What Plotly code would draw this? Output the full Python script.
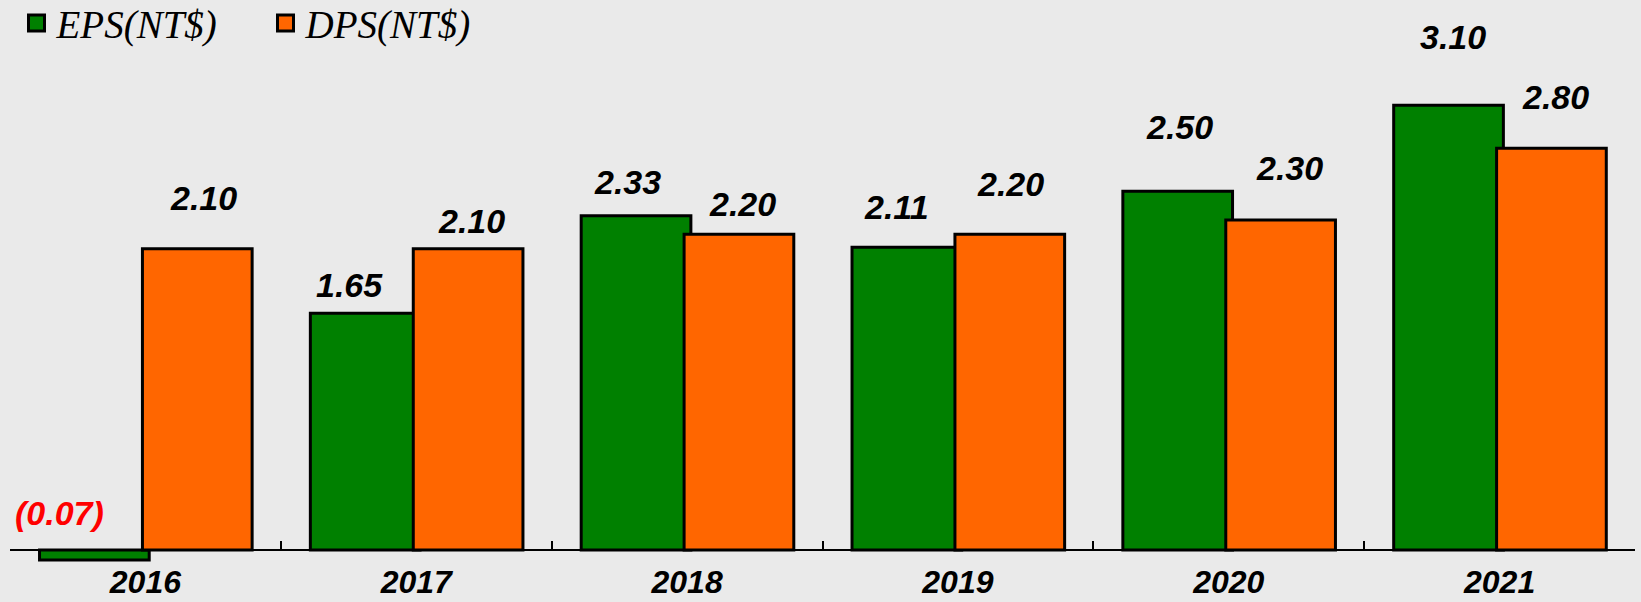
import plotly.graph_objects as go

# ---- data ----
years = ["2016", "2017", "2018", "2019", "2020", "2021"]
eps = [-0.07, 1.65, 2.33, 2.11, 2.50, 3.10]
dps = [2.10, 2.10, 2.20, 2.20, 2.30, 2.80]
eps_text = ["(0.07)", "1.65", "2.33", "2.11", "2.50", "3.10"]
dps_text = ["2.10", "2.10", "2.20", "2.20", "2.30", "2.80"]

# ---- label nudges (pixels) ----
eps_dy = [47, 28, 34, 40, 64, 68]
dps_dy = [51, 28, 30, 50, 52, 51]
eps_dx = [-35, -16, -9, -10, 2, 4]
dps_dx = [6, 3, 4, 1, 9, 4]

GREEN = "#008000"
ORANGE = "#ff6600"
BG = "#eaeaea"
BAR_W = 0.405
EPS_OFF = -0.391
DPS_OFF = -0.011
YMIN, YMAX = -0.223, 3.763

W, H = 1641, 602
ML, MR, MT, MB = 10, 6, 10, 20

fig = go.Figure()
fig.add_trace(go.Bar(
    x=years, y=eps, width=BAR_W, offset=EPS_OFF,
    marker=dict(color=GREEN, line=dict(color="black", width=3)),
    showlegend=False, hoverinfo="skip"))
fig.add_trace(go.Bar(
    x=years, y=dps, width=BAR_W, offset=DPS_OFF,
    marker=dict(color=ORANGE, line=dict(color="black", width=3)),
    showlegend=False, hoverinfo="skip"))

# legend entries
for name, col in [("EPS(NT$)", GREEN), ("DPS(NT$)", ORANGE)]:
    fig.add_trace(go.Scatter(
        x=[None], y=[None], mode="markers", name=name,
        marker=dict(symbol="square", size=16, color=col,
                    line=dict(color="black", width=3))))

label_font = dict(family="Liberation Sans", size=34, color="black",
                  weight="bold", style="italic")
for i, y in enumerate(years):
    f = dict(label_font)
    if eps[i] < 0:
        f["color"] = "#ff0000"
    fig.add_annotation(x=i + EPS_OFF + BAR_W / 2, y=eps[i], text=eps_text[i],
                       showarrow=False, yanchor="middle", xanchor="center",
                       xshift=eps_dx[i], yshift=eps_dy[i], font=f)
    fig.add_annotation(x=i + DPS_OFF + BAR_W / 2, y=dps[i], text=dps_text[i],
                       showarrow=False, yanchor="middle", xanchor="center",
                       xshift=dps_dx[i], yshift=dps_dy[i], font=label_font)

zero_pos = (0 - YMIN) / (YMAX - YMIN)

fig.update_layout(
    width=W, height=H,
    margin=dict(l=ML, r=MR, t=MT, b=MB, autoexpand=False),
    paper_bgcolor=BG, plot_bgcolor=BG,
    barmode="overlay",
    showlegend=True,
    legend=dict(orientation="h", x=0.004, y=1.033, xanchor="left", yanchor="top",
                bgcolor="rgba(0,0,0,0)",
                entrywidth=204, entrywidthmode="pixels",
                font=dict(family="Liberation Serif", size=39, color="black",
                          style="italic")),
    xaxis=dict(type="category", range=[-0.5, 5.5], anchor="free",
               position=zero_pos, showline=True, linecolor="black",
               linewidth=1.5, ticks="inside", ticklen=8, tickwidth=1.5,
               tickcolor="black", tickson="boundaries", showgrid=False,
               zeroline=False, ticklabelstandoff=4, automargin=False,
               tickfont=dict(family="Liberation Sans", size=32, color="black",
                             weight="bold", style="italic")),
    yaxis=dict(range=[YMIN, YMAX], visible=False, showgrid=False,
               zeroline=False, automargin=False),
)

fig.write_html(
    "out.html",
    config={"displayModeBar": False},
    post_script="document.body.style.margin='0';"
                "document.body.style.overflow='hidden';"
                "document.body.style.background='" + BG + "';",
)
